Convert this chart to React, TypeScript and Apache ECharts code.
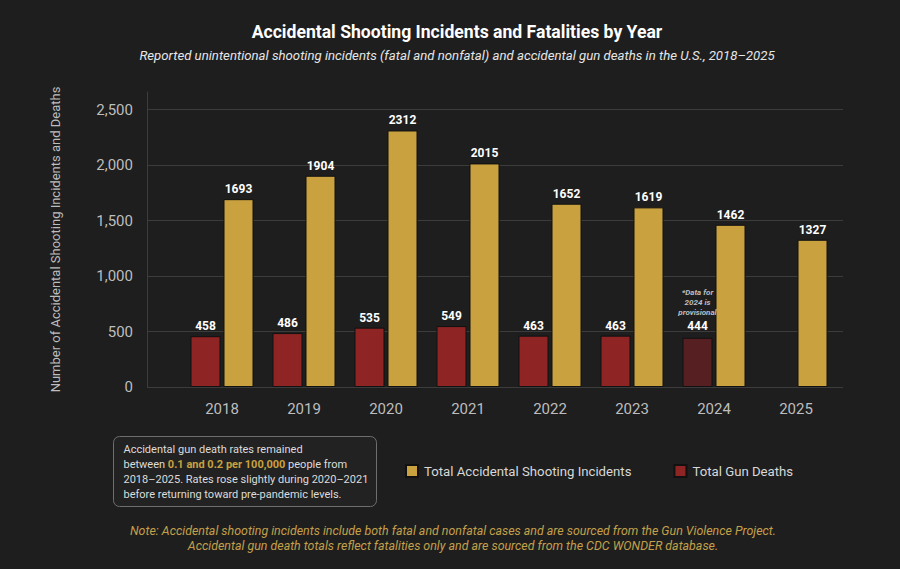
import { useEffect, useRef } from 'react';
import * as echarts from 'echarts';

const years = ['2018', '2019', '2020', '2021', '2022', '2023', '2024', '2025'];
const incidents = [1693, 1904, 2312, 2015, 1652, 1619, 1462, 1327];
const deaths: (number | null)[] = [458, 486, 535, 549, 463, 463, 444, null];
const provisionalYear = '2024';
const yTicks = [0, 500, 1000, 1500, 2000, 2500];
const incidentsName = 'Total Accidental Shooting Incidents';
const deathsName = 'Total Gun Deaths';
const noteLines = [
  'Note: Accidental shooting incidents include both fatal and nonfatal cases and are sourced from the Gun Violence Project.',
  'Accidental gun death totals reflect fatalities only and are sourced from the CDC WONDER database.',
];

const FONT = 'Roboto, "Noto Sans", sans-serif';
const GOLD = '#c9a13f';
const RED = '#8e2424';
const RED_PROV = '#561f22';

export default function App() {
  const ref = useRef<HTMLDivElement>(null);
  useEffect(() => {
    document.body.style.margin = '0';
    const chart = echarts.init(ref.current!, undefined, { renderer: 'svg' });
    const yMax = Math.max(...incidents) * 1.15;
    const valueLabel = {
      show: true,
      position: 'top' as const,
      distance: 4,
      color: '#ffffff',
      fontWeight: 'bold' as const,
      fontSize: 12,
      fontFamily: FONT,
    };
    chart.setOption({
      animation: false,
      backgroundColor: '#1e1e1e',
      textStyle: { fontFamily: FONT },
      title: [
        {
          text: 'Accidental Shooting Incidents and Fatalities by Year',
          left: 452,
          textAlign: 'center',
          top: 18,
          textStyle: { color: '#ffffff', fontSize: 17.6, fontWeight: 'bold', fontFamily: FONT },
        },
        {
          text: 'Reported unintentional shooting incidents (fatal and nonfatal) and accidental gun deaths in the U.S., 2018–2025',
          left: 452,
          textAlign: 'center',
          top: 44,
          textStyle: { color: '#e6e6e6', fontSize: 13.2, fontStyle: 'italic', fontWeight: 'normal', fontFamily: FONT },
        },
      ],
      legend: {
        data: [incidentsName, deathsName],
        left: 405,
        top: 464,
        padding: 0,
        itemWidth: 12,
        itemHeight: 12,
        itemGap: 42,
        icon: 'rect',
        textStyle: { color: '#d8d8d8', fontSize: 13.2, fontFamily: FONT, padding: [0, 0, 0, 1] },
      },
      grid: [
        { left: 147, right: 57, top: 92, bottom: 182 },
        { left: 181, right: 63, top: 92, bottom: 182 },
      ],
      xAxis: [
        { gridIndex: 0, type: 'value', min: 0, max: 1, show: false },
        {
          gridIndex: 1,
          type: 'category',
          data: years,
          axisLine: { show: false },
          axisTick: { show: false },
          axisLabel: { color: '#bdbdbd', fontSize: 15, margin: 14, fontFamily: FONT },
        },
      ],
      yAxis: [
        {
          gridIndex: 0,
          type: 'value',
          min: 0,
          max: yMax,
          interval: 500,
          axisLine: { show: true, lineStyle: { color: '#3c3c3c' } },
          axisTick: { show: false },
          splitLine: { show: false },
          axisLabel: {
            color: '#bdbdbd',
            fontSize: 15,
            margin: 14,
            showMaxLabel: false,
            fontFamily: FONT,
            formatter: (v: number) => (v % 500 === 0 ? v.toLocaleString('en-US') : ''),
          },
          name: 'Number of Accidental Shooting Incidents and Deaths',
          nameLocation: 'middle',
          nameGap: 85,
          nameTextStyle: { color: '#bdbdbd', fontSize: 13, fontFamily: FONT },
        },
        { gridIndex: 1, type: 'value', min: 0, max: yMax, show: false },
      ],
      series: [
        {
          type: 'line',
          xAxisIndex: 0,
          yAxisIndex: 0,
          data: [],
          silent: true,
          z: 0,
          markLine: {
            silent: true,
            z: 0,
            symbol: ['none', 'none'],
            label: { show: false },
            lineStyle: { color: '#3c3c3c', type: 'solid', width: 1 },
            data: yTicks.map((v) => ({ yAxis: v })),
          },
        },
        {
          name: deathsName,
          type: 'bar',
          xAxisIndex: 1,
          yAxisIndex: 1,
          z: 5,
          barWidth: 30,
          barGap: '10%',
          itemStyle: { color: RED, borderColor: '#111111', borderWidth: 1 },
          data: deaths.map((v, i) =>
            years[i] === provisionalYear
              ? {
                  value: v,
                  itemStyle: { color: RED_PROV },
                  label: {
                    ...valueLabel,
                    formatter: '{note|*Data for\n2024 is\nprovisional}\n{val|{c}}',
                    rich: {
                      note: {
                        color: '#bdbdbd',
                        fontSize: 8,
                        fontStyle: 'italic',
                        fontWeight: 'bold',
                        lineHeight: 10,
                        align: 'center',
                        fontFamily: FONT,
                      },
                      val: { color: '#ffffff', fontSize: 12, fontWeight: 'bold', lineHeight: 16, align: 'center', fontFamily: FONT },
                    },
                  },
                }
              : { value: v }
          ),
          label: valueLabel,
        },
        {
          name: incidentsName,
          type: 'bar',
          xAxisIndex: 1,
          yAxisIndex: 1,
          z: 5,
          barWidth: 30,
          barGap: '10%',
          itemStyle: { color: GOLD, borderColor: '#111111', borderWidth: 1 },
          data: incidents,
          label: valueLabel,
        },
      ],
      graphic: [
        {
          type: 'group',
          left: 113,
          top: 436,
          children: [
            {
              type: 'rect',
              shape: { x: 0, y: 0, width: 263, height: 70, r: 6 },
              style: { fill: 'rgba(255,255,255,0.02)', stroke: '#6e6e6e', lineWidth: 1 },
            },
            {
              type: 'text',
              x: 10,
              y: 5,
              style: {
                text:
                  '{n|Accidental gun death rates remained}\n{n|between }{h|0.1 and 0.2 per 100,000}{n| people from}\n{n|2018–2025. Rates rose slightly during 2020–2021}\n{n|before returning toward pre-pandemic levels.}',
                rich: {
                  n: { fill: '#dcdcdc', fontSize: 11, lineHeight: 15, fontFamily: FONT },
                  h: { fill: GOLD, fontSize: 11, lineHeight: 15, fontWeight: 'bold', fontFamily: FONT },
                },
              },
            },
          ],
        },
        ...noteLines.map((t, i) => ({
          type: 'text',
          x: 453,
          y: 530 + i * 15,
          style: {
            text: t,
            fill: '#c4a04a',
            fontSize: 12.4,
            fontStyle: 'italic',
            fontFamily: FONT,
            align: 'center',
            verticalAlign: 'middle',
          },
        })),
      ],
    });
    return () => chart.dispose();
  }, []);
  return <div ref={ref} style={{ position: 'fixed', left: 0, top: 0, width: 900, height: 569 }} />;
}
